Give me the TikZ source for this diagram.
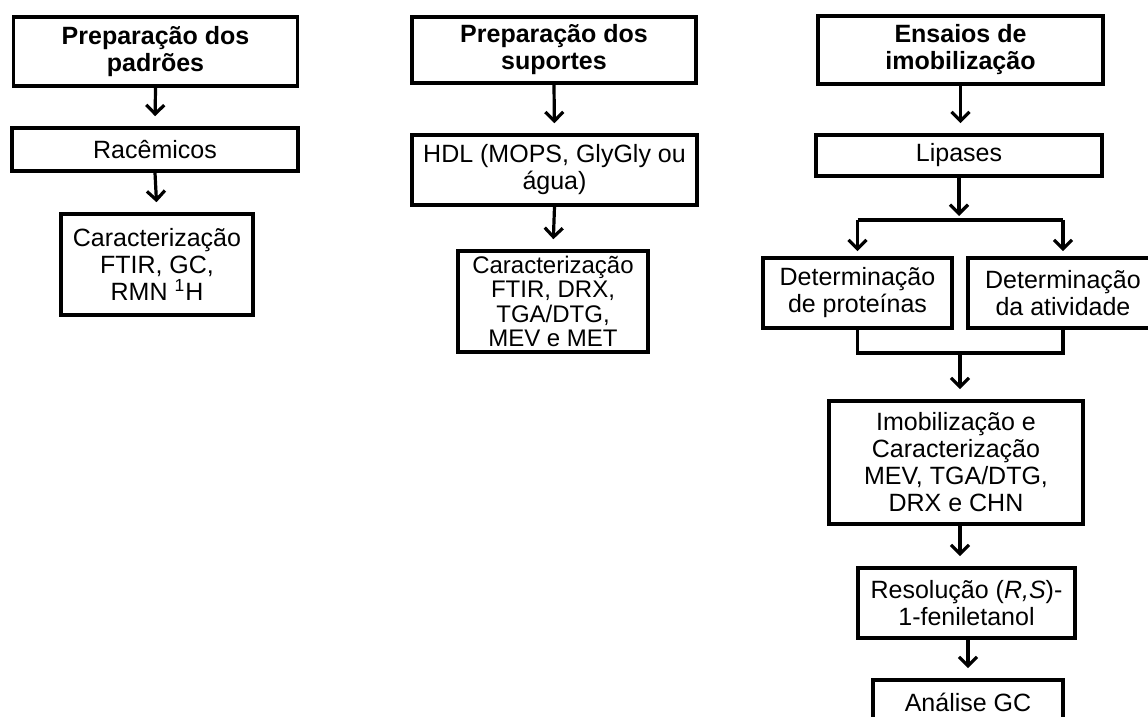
\documentclass[tikz,border=0pt]{standalone}
\usepackage{fontspec}
\setmainfont{Liberation Sans}
\usetikzlibrary{arrows.meta}
\tikzset{
  box/.style={draw, line width=1.8pt, align=center, inner sep=1pt,
    font=\fontsize{12.5pt}{13.5pt}\selectfont},
  headbox/.style={box, font=\fontsize{12.5pt}{13.5pt}\selectfont\bfseries},
  flow/.style={line width=1.6pt},
  arr/.style={flow, -{Straight Barb[length=4.5pt,width=9pt]}, shorten >=5pt}
}
\begin{document}
\begin{tikzpicture}[x=0.5pt,y=-0.5pt]
  \useasboundingbox (0,0) rectangle (1148,717);
  % padroes
  \node[headbox, minimum width=142pt, minimum height=34.5pt] (p1) at (155.5,51.5) {Preparação dos\\padrões};
  \node[box, minimum width=143pt, minimum height=21.5pt] (p2) at (155,149.5) {Racêmicos};
  \node[box, minimum width=96pt, minimum height=50.5pt] (p3) at (157,264.5) {Caracterização\\FTIR, GC,\\RMN \textsuperscript{1}H};
  \draw[arr] (p1.south) -- (p2.north);
  \draw[arr] (p2.south) -- (p3.north);
  % suportes
  \node[headbox, minimum width=142pt, minimum height=33pt] (s1) at (554,50) {Preparação dos\\suportes};
  \node[box, minimum width=142.5pt, minimum height=35pt] (s2) at (554.5,170) {HDL (MOPS, GlyGly ou\\água)};
  \node[box, minimum width=95pt, minimum height=50.5pt,
    font=\fontsize{12pt}{12.2pt}\selectfont] (s3) at (553,301.5) {Caracterização\\FTIR, DRX,\\TGA/DTG,\\MEV e MET};
  \draw[arr] (s1.south) -- (s2.north);
  \draw[arr] (s2.south) -- (s3.north);
  % imobilizacao
  \node[headbox, minimum width=142.5pt, minimum height=34pt] (e1) at (960.5,50) {Ensaios de\\imobilização};
  \node[box, minimum width=143pt, minimum height=20.5pt] (e2) at (959,155.5) {Lipases};
  \node[box, minimum width=94.5pt, minimum height=35pt] (e3) at (857.5,293) {Determinação\\de proteínas};
  \node[box, minimum width=95pt, minimum height=35pt] (e4) at (1063,293) {Determinação\\da atividade};
  \node[box, minimum width=127pt, minimum height=61.5pt] (e5) at (956,462.5) {Imobilização e\\Caracterização\\MEV, TGA/DTG,\\DRX e CHN};
  \node[box, minimum width=108.5pt, minimum height=35pt] (e6) at (966.5,603) {Resolução (\textit{R,S})-\\1-feniletanol};
  \node[box, minimum width=95pt, minimum height=22pt] (e7) at (968,702) {Análise GC};
  \coordinate (split) at (959,220);
  \coordinate (join) at (960,353);
  \draw[arr] (e1.south) -- (e1.south |- e2.north);
  \draw[arr, shorten >=2pt] (e2.south) -- (split);
  \draw[flow] (split -| e3) -- (split -| e4);
  \draw[arr, shorten >=2.5pt] (split -| e3) -- (e3.north);
  \draw[arr, shorten >=2.5pt] (split -| e4) -- (e4.north);
  \draw[flow] (e3.south) -- (e3.south |- join) -- (e4.south |- join) -- (e4.south);
  \draw[arr] (join) -- (join |- e5.north);
  \draw[arr] (e5.south -| join) -- (join |- e6.north);
  \draw[arr] (e6.south -| e7) -- (e7.north);
\end{tikzpicture}
\end{document}
